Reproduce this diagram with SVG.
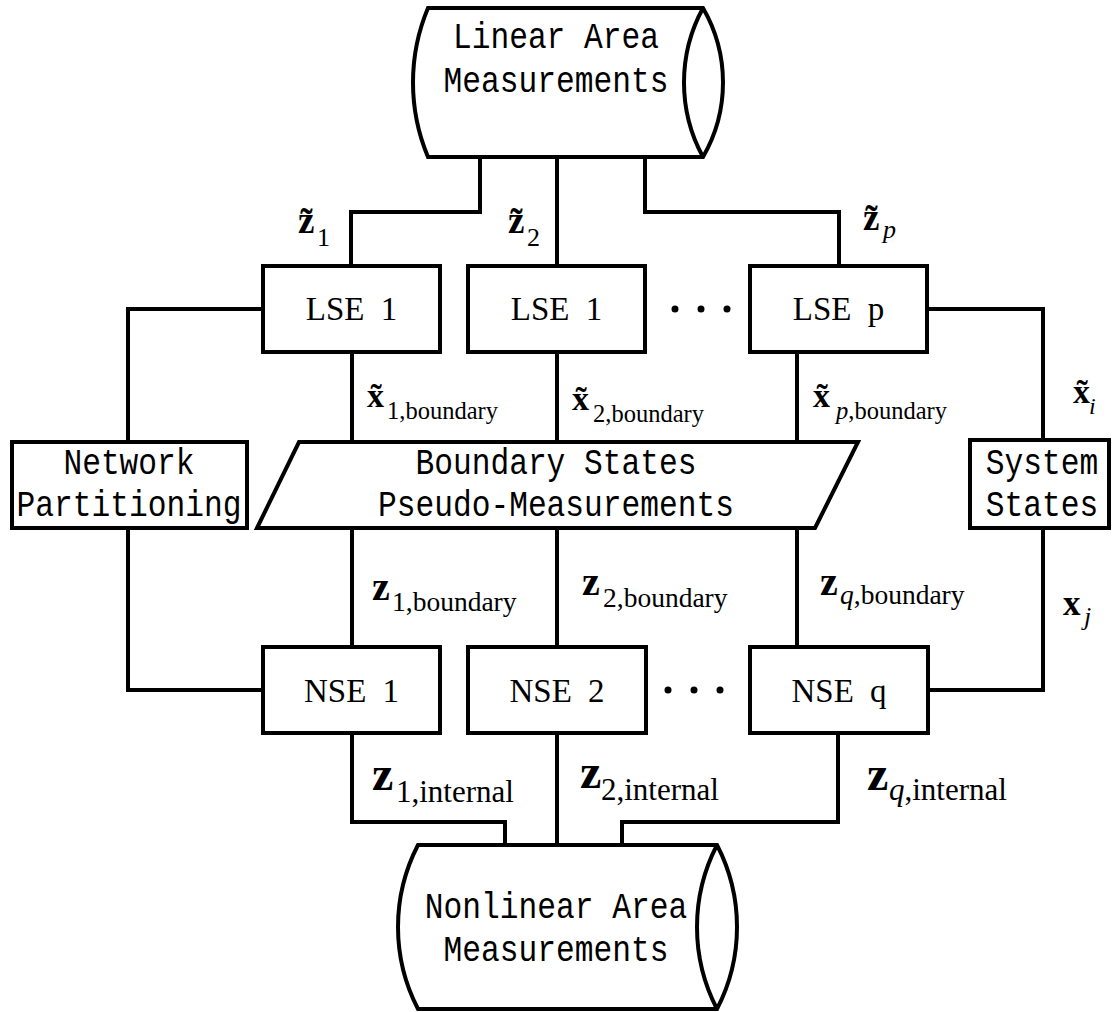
<svg xmlns="http://www.w3.org/2000/svg" width="1113" height="1012" viewBox="0 0 1113 1012">
<style>
.shape{fill:#fff;stroke:#000;stroke-width:4;stroke-linejoin:miter}
.inner{fill:none;stroke:#000;stroke-width:4}
.conn{fill:none;stroke:#000;stroke-width:4;stroke-linejoin:miter}
.mono{font-family:"Liberation Mono","DejaVu Sans Mono",monospace;font-size:31.25px;text-anchor:middle;fill:#000}
.est{font-family:"Liberation Serif","Times New Roman",serif;font-size:33px;text-anchor:middle;word-spacing:8px;fill:#000}
.lbl{font-family:"Liberation Serif","Times New Roman",serif;fill:#000}
.v{font-weight:bold}
.it{font-style:italic}
.dot{fill:#000}
</style>
<rect width="1113" height="1012" fill="#fff"/>

<g id="connectors">
<path class="conn" d="M480,157 V212 H351 V266"/>
<path class="conn" d="M557,157 V266"/>
<path class="conn" d="M645,157 V212 H839 V266"/>
<path class="conn" d="M263,309 H128 V442"/>
<path class="conn" d="M128,528 V690 H263"/>
<path class="conn" d="M352,352 V442"/>
<path class="conn" d="M352,528 V647"/>
<path class="conn" d="M557,352 V442"/>
<path class="conn" d="M557,528 V647"/>
<path class="conn" d="M797,352 V442"/>
<path class="conn" d="M797,528 V647"/>
<path class="conn" d="M927,309 H1043 V440"/>
<path class="conn" d="M1043,528 V690 H928"/>
<path class="conn" d="M352,733 V822 H505 V845"/>
<path class="conn" d="M557,733 V845"/>
<path class="conn" d="M838,733 V822 H622 V845"/>
</g>

<g id="linear-area-measurements">
<path class="shape" d="M428,8 L703,8 A148.8,148.8 0 0 1 703,157 L428,157 A192.5,192.5 0 0 1 428,8 Z"/>
<path class="inner" d="M703,8 A155.5,155.5 0 0 0 703,157"/>
<text class="mono" transform="translate(556,48) scale(1,1.2)">Linear Area</text>
<text class="mono" transform="translate(556,92) scale(1,1.2)">Measurements</text>
</g>

<g id="lse-1">
<rect class="shape" x="263" y="266" width="177" height="86"/>
<text class="est" x="351.5" y="320">LSE 1</text>
</g>
<g id="lse-2">
<rect class="shape" x="468" y="266" width="177" height="86"/>
<text class="est" x="556.5" y="320">LSE 1</text>
</g>
<g id="lse-dots">
<circle class="dot" cx="675" cy="309" r="3.5"/>
<circle class="dot" cx="701" cy="309" r="3.5"/>
<circle class="dot" cx="727" cy="309" r="3.5"/>
</g>
<g id="lse-p">
<rect class="shape" x="750" y="266" width="177" height="86"/>
<text class="est" x="838.5" y="320">LSE p</text>
</g>

<g id="network-partitioning">
<rect class="shape" x="12" y="442" width="235" height="86"/>
<text class="mono" transform="translate(129,474) scale(1,1.2)">Network</text>
<text class="mono" transform="translate(129,516) scale(1,1.2)">Partitioning</text>
</g>

<g id="boundary-states">
<path class="shape" d="M299,442 L858,442 L815,528 L257,528 Z"/>
<text class="mono" transform="translate(556,474) scale(1,1.2)">Boundary States</text>
<text class="mono" transform="translate(556,516) scale(1,1.2)">Pseudo-Measurements</text>
</g>

<g id="system-states">
<rect class="shape" x="970" y="440" width="139" height="88"/>
<text class="mono" transform="translate(1042,474) scale(1,1.2)">System</text>
<text class="mono" transform="translate(1042,516) scale(1,1.2)">States</text>
</g>

<g id="nse-1">
<rect class="shape" x="263" y="647" width="177" height="86"/>
<text class="est" x="351.5" y="702">NSE 1</text>
</g>
<g id="nse-2">
<rect class="shape" x="468" y="647" width="178" height="86"/>
<text class="est" x="557" y="702">NSE 2</text>
</g>
<g id="nse-dots">
<circle class="dot" cx="668" cy="690" r="3.5"/>
<circle class="dot" cx="694" cy="690" r="3.5"/>
<circle class="dot" cx="720" cy="690" r="3.5"/>
</g>
<g id="nse-q">
<rect class="shape" x="750" y="647" width="178" height="86"/>
<text class="est" x="839" y="702">NSE q</text>
</g>

<g id="nonlinear-area-measurements">
<path class="shape" d="M418,845 L717,845 A178.1,178.1 0 0 1 717,1009 L418,1009 A178.1,178.1 0 0 1 418,845 Z"/>
<path class="inner" d="M717,845 A178.1,178.1 0 0 0 717,1009"/>
<text class="mono" transform="translate(556,918) scale(1,1.2)">Nonlinear Area</text>
<text class="mono" transform="translate(556,961) scale(1,1.2)">Measurements</text>
</g>

<g id="labels">
<text class="lbl"><tspan class="v" font-size="37" x="298" y="233">z̃</tspan><tspan font-size="26" x="317" y="246">1</tspan></text>

<text class="lbl"><tspan class="v" font-size="37" x="508" y="233">z̃</tspan><tspan font-size="26" x="527" y="246">2</tspan></text>

<text class="lbl"><tspan class="v" font-size="37" x="863" y="230">z̃</tspan><tspan class="it" font-size="26" x="883" y="238">p</tspan></text>

<text class="lbl"><tspan class="v" font-size="34" x="367" y="407">x̃</tspan><tspan font-size="24.5" x="387" y="419">1,boundary</tspan></text>

<text class="lbl"><tspan class="v" font-size="34" x="572" y="410">x̃</tspan><tspan font-size="24.5" x="593" y="422">2,boundary</tspan></text>

<text class="lbl"><tspan class="v" font-size="34" x="813" y="407">x̃</tspan><tspan class="it" font-size="24.5" x="836" y="419">p</tspan><tspan font-size="24.5">,boundary</tspan></text>

<text class="lbl"><tspan class="v" font-size="34" x="1073" y="403">x̃</tspan><tspan class="it" font-size="24" x="1089" y="414">i</tspan></text>

<text class="lbl"><tspan class="v" font-size="40" x="372" y="600">z</tspan><tspan font-size="27.5" x="392" y="611">1,boundary</tspan></text>

<text class="lbl"><tspan class="v" font-size="40" x="582" y="595">z</tspan><tspan font-size="27.5" x="603" y="607">2,boundary</tspan></text>

<text class="lbl"><tspan class="v" font-size="40" x="820" y="595">z</tspan><tspan class="it" font-size="27.5" x="840" y="604">q</tspan><tspan font-size="27.5">,boundary</tspan></text>

<text class="lbl"><tspan class="v" font-size="35" x="1063" y="615">x</tspan><tspan class="it" font-size="26" x="1084" y="625">j</tspan></text>

<text class="lbl"><tspan class="v" font-size="48" x="372" y="790">z</tspan><tspan font-size="31" x="396" y="802">1,internal</tspan></text>

<text class="lbl"><tspan class="v" font-size="48" x="580" y="788">z</tspan><tspan font-size="31" x="601" y="800">2,internal</tspan></text>

<text class="lbl"><tspan class="v" font-size="48" x="867" y="790">z</tspan><tspan class="it" font-size="31" x="889" y="800">q</tspan><tspan font-size="31">,internal</tspan></text>
</g>
</svg>
